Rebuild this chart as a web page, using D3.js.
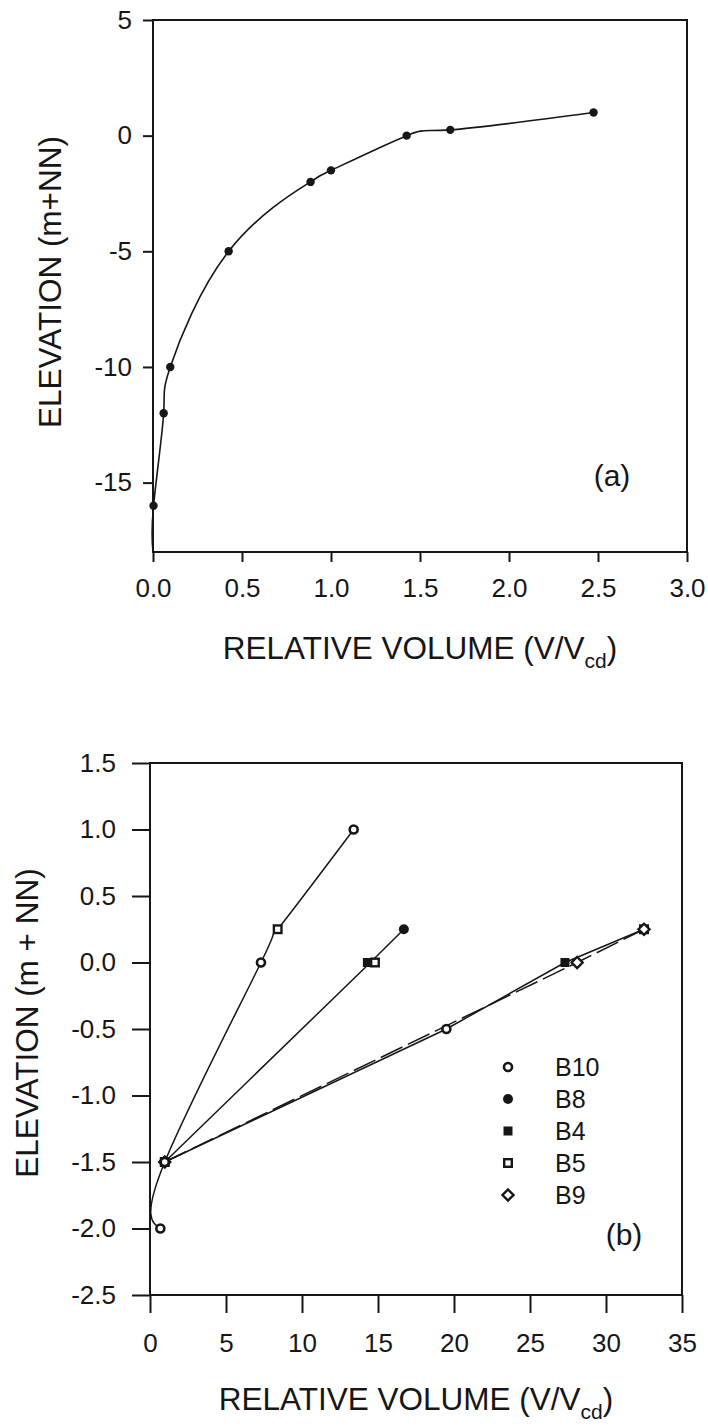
<!DOCTYPE html>
<html>
<head>
<meta charset="utf-8">
<script src="https://cdn.jsdelivr.net/npm/d3@7"></script>
<style>
  html, body { margin: 0; padding: 0; background: #fff; }
  svg { display: block; }
  text { font-family: "Liberation Sans", Arial, sans-serif; fill: #161616; }
</style>
</head>
<body>
<svg id="fig" width="708" height="1426"></svg>
<script>
// ---- panel (a): reference elevation / volume curve ----
const aVolume    = [0.003, 0.06, 0.097, 0.425, 0.885, 1.0, 1.425, 1.67, 2.475];
const aElevation = [-16, -12, -10, -5, -2, -1.5, 0, 0.25, 1];
const aCurveBase = [0, -18];            // curve runs down to the lower axis
const aXTicks = [0, 0.5, 1.0, 1.5, 2.0, 2.5, 3.0];
const aYTicks = [5, 0, -5, -10, -15];

// ---- panel (b): basins ----
const seriesNames = ["B10", "B8", "B4", "B5", "B9"];
const b10 = [[0.68, -2.0], [0.97, -1.5], [7.3, 0], [13.4, 1.0], [19.5, -0.5]];
const b8  = [[16.7, 0.25]];
const b4  = [[14.3, 0], [27.3, 0]];
const b5  = [[0.97, -1.5], [8.4, 0.25], [14.8, 0], [32.5, 0.25]];
const b9  = [[0.97, -1.5], [28.1, 0], [32.5, 0.25]];

// fitted curves through the basin points
const curveSteep  = [[0.68, -2.0], [0.97, -1.5], [7.3, 0], [8.4, 0.25], [13.4, 1.0]];
const curveMiddle = [[0.97, -1.5], [14.5, 0], [16.7, 0.25]];
const curveLow    = [[0.97, -1.5], [19.5, -0.5], [27.3, 0], [32.5, 0.25]];
const curveLowAlt = [[0.97, -1.5], [28.1, 0], [32.5, 0.25]];   // dashed

const bXTicks = [0, 5, 10, 15, 20, 25, 30, 35];
const bYTicks = [1.5, 1.0, 0.5, 0.0, -0.5, -1.0, -1.5, -2.0, -2.5];

const svg = d3.select("#fig");
const INK = "#161616";
const hyph = s => s.replace("\u2212", "-");

function frame(g, x, y, tick, yPad, xPad, xFmt, yFmt, xTicks, yTicks) {
  const [x0, x1] = x.range(), [y0, y1] = y.range();
  g.append("rect")
    .attr("x", x0).attr("y", y1).attr("width", x1 - x0).attr("height", y0 - y1)
    .attr("fill", "none").attr("stroke", INK).attr("stroke-width", 2);
  const ax = g.append("g").attr("transform", `translate(0,${y0})`)
    .call(d3.axisBottom(x).tickValues(xTicks).tickSize(tick).tickSizeOuter(0)
      .tickPadding(xPad).tickFormat(d => hyph(xFmt(d))));
  const ay = g.append("g").attr("transform", `translate(${x0},0)`)
    .call(d3.axisLeft(y).tickValues(yTicks).tickSize(tick).tickSizeOuter(0)
      .tickPadding(yPad).tickFormat(d => hyph(yFmt(d))));
  [ax, ay].forEach(a => {
    a.select(".domain").remove();
    a.selectAll("line").attr("stroke", INK).attr("stroke-width", 2);
    a.selectAll("text").attr("font-size", 26).attr("fill", INK)
      .style("font-family", '"Liberation Sans", Arial, sans-serif');
  });
}

function xTitle(g, cx, baseline) {
  const t = g.append("text").attr("x", cx).attr("y", baseline)
    .attr("text-anchor", "middle").attr("font-size", 31.5);
  t.append("tspan").text("RELATIVE VOLUME (V/V");
  t.append("tspan").attr("font-size", 21).attr("dy", 9).text("cd");
  t.append("tspan").attr("dy", -9).text(")");
}

function yTitle(g, x, cy, label) {
  g.append("text").attr("transform", `translate(${x},${cy}) rotate(-90)`)
    .attr("text-anchor", "middle").attr("font-size", 31.5).text(label);
}

// ===== panel (a) =====
const xA = d3.scaleLinear([0, 3], [153, 687]);
const yA = d3.scaleLinear([-18, 5], [552, 20]);
const gA = svg.append("g");
frame(gA, xA, yA, 10, 11, 17, d3.format(".1f"), d3.format("d"), aXTicks, aYTicks);

const aPoints = aVolume.map((v, i) => [v, aElevation[i]]);
gA.append("path")
  .datum([aCurveBase, ...aPoints])
  .attr("fill", "none").attr("stroke", INK).attr("stroke-width", 1.6)
  .attr("d", d3.line().x(d => xA(d[0])).y(d => yA(d[1])).curve(d3.curveNatural));
gA.selectAll("circle.pt").data(aPoints).join("circle")
  .attr("class", "pt")
  .attr("cx", d => xA(d[0])).attr("cy", d => yA(d[1])).attr("r", 4.2)
  .attr("fill", INK);

xTitle(gA, 420, 659);
yTitle(gA, 61, 282, "ELEVATION (m+NN)");
gA.append("text").attr("x", 612).attr("y", 486).attr("text-anchor", "middle")
  .attr("font-size", 30).text("(a)");

// ===== panel (b) =====
const xB = d3.scaleLinear([0, 35], [150, 682]);
const yB = d3.scaleLinear([-2.5, 1.5], [1295, 763]);
const gB = svg.append("g");
frame(gB, xB, yB, 18, 16, 21, d3.format("d"), d3.format(".1f"), bXTicks, bYTicks);

const smooth = d3.line().x(d => xB(d[0])).y(d => yB(d[1])).curve(d3.curveNatural);
const straight = d3.line().x(d => xB(d[0])).y(d => yB(d[1]));
gB.append("path").datum(curveSteep).attr("fill", "none").attr("stroke", INK)
  .attr("stroke-width", 1.5).attr("d", smooth);
[curveMiddle, curveLow].forEach(c => {
  gB.append("path").datum(c).attr("fill", "none").attr("stroke", INK)
    .attr("stroke-width", 1.5).attr("d", straight);
});
gB.append("path").datum(curveLowAlt).attr("fill", "none").attr("stroke", INK)
  .attr("stroke-width", 1.5).attr("stroke-dasharray", "24,6").attr("d", straight);

// marker painters
const markers = {
  B10: (g, x, y) => g.append("circle").attr("cx", x).attr("cy", y).attr("r", 4)
        .attr("fill", "#fff").attr("stroke", INK).attr("stroke-width", 2.6),
  B8:  (g, x, y) => g.append("circle").attr("cx", x).attr("cy", y).attr("r", 5)
        .attr("fill", INK),
  B4:  (g, x, y) => g.append("rect").attr("x", x - 4.5).attr("y", y - 4.5)
        .attr("width", 9).attr("height", 9).attr("fill", INK),
  B5:  (g, x, y) => g.append("rect").attr("x", x - 3.8).attr("y", y - 3.8)
        .attr("width", 7.6).attr("height", 7.6)
        .attr("fill", "#fff").attr("stroke", INK).attr("stroke-width", 2.4),
  B9:  (g, x, y) => g.append("path")
        .attr("d", `M${x},${y - 5.5}L${x + 5.5},${y}L${x},${y + 5.5}L${x - 5.5},${y}Z`)
        .attr("fill", "#fff").attr("stroke", INK).attr("stroke-width", 2.4),
};
const seriesData = { B10: b10, B8: b8, B4: b4, B5: b5, B9: b9 };
["B4", "B8", "B5", "B9", "B10"].forEach(name => {
  seriesData[name].forEach(d => markers[name](gB, xB(d[0]), yB(d[1])));
});

// legend
const lg = gB.append("g");
seriesNames.forEach((name, i) => {
  const cy = 1067 + i * 32;
  markers[name](lg, 508, cy);
  lg.append("text").attr("x", 555).attr("y", cy + 9).attr("font-size", 25).text(name);
});

xTitle(gB, 416, 1410);
yTitle(gB, 38, 1023, "ELEVATION (m + NN)");
gB.append("text").attr("x", 624).attr("y", 1245).attr("text-anchor", "middle")
  .attr("font-size", 30).text("(b)");
</script>
</body>
</html>
